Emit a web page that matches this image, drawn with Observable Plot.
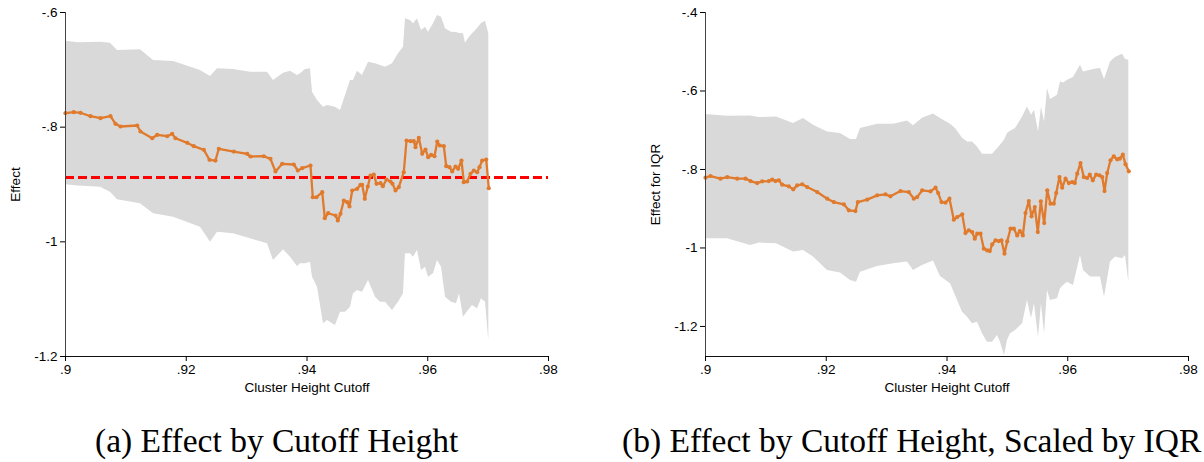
<!DOCTYPE html>
<html>
<head>
<meta charset="utf-8">
<script src="https://cdn.jsdelivr.net/npm/d3@7"></script>
<script src="https://cdn.jsdelivr.net/npm/@observablehq/plot@0.6"></script>
<style>
  body { margin: 0; background: #fff; }
  #wrap { position: relative; width: 1204px; height: 462px; overflow: hidden; background: #fff; }
  .panel { position: absolute; top: 0; }
  #caps { position: absolute; left: 0; top: 400px; }
</style>
</head>
<body>
<div id="wrap">
  <div class="panel" id="pa" style="left:0px"></div>
  <div class="panel" id="pb" style="left:602px"></div>
  <svg id="caps" width="1204" height="62">
    <text x="95" y="52" font-family="Liberation Serif, 'DejaVu Serif', serif" font-size="33.5">(a) Effect by Cutoff Height</text>
    <text x="622" y="52" font-family="Liberation Serif, 'DejaVu Serif', serif" font-size="33.5">(b) Effect by Cutoff Height, Scaled by IQR</text>
  </svg>
</div>
<script>
// ---------- shared ----------
const xTicks = [0.9, 0.92, 0.94, 0.96, 0.98];
const xLabel = "Cluster Height Cutoff";

// ---------- panel (a): Effect ----------
const aYTicks = [-1.2, -1, -0.8, -0.6];
const aYLabel = "Effect";
const aRefLine = -0.8878;
const aEstX = [0.90000,0.90137,0.90248,0.90414,0.90580,0.90745,0.90828,0.90911,0.91188,0.91242,0.91436,0.91519,0.91684,0.91767,0.91822,0.92016,0.92125,0.92291,0.92385,0.92484,0.92539,0.92788,0.93010,0.93064,0.93285,0.93395,0.93478,0.93589,0.93781,0.93848,0.93920,0.94058,0.94096,0.94157,0.94252,0.94295,0.94351,0.94472,0.94510,0.94555,0.94610,0.94666,0.94704,0.94749,0.94831,0.94886,0.94914,0.94957,0.95007,0.95052,0.95107,0.95151,0.95217,0.95256,0.95317,0.95383,0.95416,0.95466,0.95520,0.95603,0.95648,0.95714,0.95769,0.95797,0.95852,0.95908,0.95963,0.96007,0.96057,0.96112,0.96157,0.96200,0.96266,0.96306,0.96360,0.96405,0.96460,0.96504,0.96559,0.96597,0.96653,0.96708,0.96763,0.96819,0.96857,0.96902,0.96968,0.97011];
const aEst = [-0.7756,-0.7739,-0.7749,-0.7809,-0.7844,-0.7809,-0.7941,-0.7988,-0.7971,-0.8076,-0.8193,-0.8133,-0.8158,-0.8116,-0.8193,-0.8273,-0.8332,-0.8395,-0.8569,-0.8582,-0.8377,-0.8425,-0.8465,-0.8512,-0.8507,-0.8552,-0.8773,-0.8639,-0.8651,-0.8756,-0.8716,-0.8669,-0.9222,-0.9222,-0.9134,-0.9588,-0.9501,-0.9541,-0.9628,-0.9511,-0.9279,-0.9309,-0.9384,-0.9105,-0.9075,-0.9005,-0.9005,-0.9250,-0.9035,-0.8843,-0.8826,-0.8988,-0.8977,-0.9030,-0.8913,-0.8948,-0.8988,-0.9105,-0.9047,-0.8786,-0.8233,-0.8245,-0.8245,-0.8350,-0.8186,-0.8465,-0.8390,-0.8524,-0.8482,-0.8507,-0.8250,-0.8320,-0.8332,-0.8681,-0.8698,-0.8773,-0.8686,-0.8726,-0.8582,-0.8960,-0.8948,-0.8814,-0.8756,-0.8786,-0.8698,-0.8582,-0.8564,-0.9065];
const aBandX = [0.9,0.90215,0.90580,0.90745,0.90861,0.91242,0.91458,0.91789,0.92236,0.92402,0.92518,0.92783,0.93064,0.93346,0.93445,0.93611,0.93727,0.93843,0.93892,0.93975,0.94058,0.94091,0.94174,0.94273,0.94340,0.94472,0.94555,0.94638,0.94720,0.94770,0.94836,0.94919,0.95019,0.95135,0.95217,0.95300,0.95416,0.95516,0.95598,0.95631,0.95714,0.95764,0.95830,0.95897,0.95963,0.96012,0.96095,0.96161,0.96228,0.96294,0.96393,0.96476,0.96526,0.96592,0.96625,0.96675,0.96741,0.96824,0.96890,0.96957,0.97011];
const aUpper = [-0.6501,-0.6529,-0.6518,-0.6535,-0.6663,-0.6651,-0.6837,-0.6855,-0.7012,-0.7116,-0.6982,-0.6994,-0.7041,-0.7041,-0.7186,-0.7059,-0.7024,-0.7099,-0.7069,-0.6994,-0.6982,-0.7390,-0.7535,-0.7652,-0.7622,-0.7652,-0.7709,-0.7448,-0.7186,-0.7186,-0.7024,-0.7099,-0.6867,-0.6895,-0.6924,-0.6954,-0.6895,-0.6720,-0.6605,-0.6110,-0.6140,-0.6197,-0.6110,-0.6314,-0.6256,-0.6344,-0.6197,-0.6052,-0.6082,-0.6284,-0.6344,-0.6349,-0.6366,-0.6372,-0.6535,-0.6454,-0.6372,-0.6279,-0.6192,-0.6152,-0.6372];
const aLower = [-0.9005,-0.9026,-0.9047,-0.9134,-0.9267,-0.9337,-0.9511,-0.9570,-0.9745,-1.0007,-0.9832,-0.9860,-0.9947,-1.0035,-1.0326,-1.0139,-1.0268,-1.0430,-1.0383,-1.0383,-1.0355,-1.0617,-1.0792,-1.1430,-1.1372,-1.1460,-1.1228,-1.1228,-1.1140,-1.0907,-1.0849,-1.0879,-1.0675,-1.0966,-1.1053,-1.1053,-1.1198,-1.1053,-1.0907,-1.0209,-1.0209,-1.0268,-1.0151,-1.0500,-1.0443,-1.0617,-1.0558,-1.0326,-1.0443,-1.0966,-1.1053,-1.1081,-1.0907,-1.1315,-1.1268,-1.1198,-1.1111,-1.1168,-1.0994,-1.1053,-1.1721];

// ---------- panel (b): Effect for IQR ----------
const bYTicks = [-1.2, -1, -0.8, -0.6, -0.4];
const bYLabel = "Effect for IQR";
const bEstX = [0.90000,0.90083,0.90248,0.90359,0.90525,0.90663,0.90745,0.90856,0.90939,0.91048,0.91105,0.91159,0.91214,0.91270,0.91380,0.91453,0.91519,0.91602,0.91684,0.91850,0.92016,0.92125,0.92291,0.92374,0.92484,0.92523,0.92678,0.92844,0.92981,0.93064,0.93230,0.93367,0.93450,0.93506,0.93589,0.93727,0.93810,0.93854,0.93909,0.93975,0.94041,0.94113,0.94169,0.94252,0.94306,0.94361,0.94417,0.94460,0.94500,0.94555,0.94610,0.94666,0.94709,0.94749,0.94803,0.94858,0.94903,0.94952,0.94997,0.95052,0.95107,0.95163,0.95206,0.95256,0.95300,0.95355,0.95400,0.95454,0.95504,0.95554,0.95610,0.95660,0.95714,0.95769,0.95809,0.95863,0.95908,0.95963,0.96018,0.96074,0.96117,0.96157,0.96211,0.96266,0.96322,0.96365,0.96415,0.96471,0.96526,0.96571,0.96609,0.96653,0.96708,0.96763,0.96819,0.96862,0.96912,0.96957,0.97011];
const bEst = [-0.8208,-0.8167,-0.8234,-0.8193,-0.8234,-0.8234,-0.8295,-0.8346,-0.8302,-0.8295,-0.8259,-0.8295,-0.8277,-0.8387,-0.8430,-0.8507,-0.8405,-0.8379,-0.8448,-0.8575,-0.8744,-0.8830,-0.8889,-0.9042,-0.9060,-0.8830,-0.8769,-0.8660,-0.8634,-0.8685,-0.8550,-0.8575,-0.8744,-0.8703,-0.8532,-0.8558,-0.8463,-0.8601,-0.8830,-0.8846,-0.8744,-0.9279,-0.9213,-0.9144,-0.9621,-0.9552,-0.9596,-0.9764,-0.9636,-0.9636,-1.0019,-1.0062,-1.0080,-0.9909,-0.9807,-0.9825,-0.9807,-1.0146,-0.9833,-0.9509,-0.9509,-0.9680,-0.9570,-0.9680,-0.9111,-0.8805,-0.9195,-0.8958,-0.9596,-0.8813,-0.9366,-0.8532,-0.8871,-0.8871,-0.8601,-0.8193,-0.8463,-0.8234,-0.8346,-0.8320,-0.8346,-0.8106,-0.7836,-0.8193,-0.8218,-0.8132,-0.8277,-0.8132,-0.8149,-0.8193,-0.8550,-0.8091,-0.7767,-0.7665,-0.7741,-0.7724,-0.7622,-0.7869,-0.8047];
const bBandX = [0.9,0.90364,0.90745,0.90894,0.91176,0.91458,0.91623,0.91789,0.92021,0.92236,0.92402,0.92501,0.92567,0.92849,0.93114,0.93346,0.93445,0.93594,0.93776,0.93892,0.94058,0.94141,0.94257,0.94340,0.94422,0.94505,0.94588,0.94671,0.94754,0.94836,0.94886,0.94952,0.95002,0.95052,0.95135,0.95251,0.95333,0.95400,0.95449,0.95516,0.95565,0.95615,0.95665,0.95714,0.95830,0.95880,0.95930,0.95996,0.96095,0.96211,0.96261,0.96377,0.96493,0.96542,0.96609,0.96708,0.96791,0.96907,0.96957,0.97011];
const bUpper = [-0.6601,-0.6645,-0.6637,-0.6678,-0.6663,-0.6831,-0.6703,-0.6874,-0.7045,-0.7086,-0.7239,-0.7239,-0.6958,-0.6849,-0.6849,-0.6765,-0.6887,-0.6696,-0.6586,-0.6703,-0.6849,-0.6958,-0.7206,-0.7300,-0.7300,-0.7428,-0.7614,-0.7614,-0.7614,-0.7469,-0.7384,-0.7257,-0.7086,-0.7027,-0.6958,-0.6663,-0.6408,-0.6619,-0.6492,-0.7045,-0.6408,-0.6790,-0.5938,-0.6219,-0.6109,-0.5770,-0.5795,-0.5727,-0.5658,-0.5344,-0.5515,-0.5472,-0.5433,-0.5428,-0.5709,-0.5260,-0.5148,-0.5063,-0.5199,-0.5217];
const bLower = [-0.9764,-0.9764,-0.9935,-0.9876,-0.9891,-1.0106,-1.0062,-1.0233,-1.0572,-1.0641,-1.0827,-1.0871,-1.0616,-1.0470,-1.0401,-1.0361,-1.0572,-1.0445,-1.0330,-1.0725,-1.0911,-1.1210,-1.1636,-1.1763,-1.1932,-1.1891,-1.2187,-1.2401,-1.2401,-1.2230,-1.2401,-1.2740,-1.2357,-1.2187,-1.2103,-1.1932,-1.1337,-1.1796,-1.1422,-1.2273,-1.1422,-1.2187,-1.1082,-1.1337,-1.1294,-1.1039,-1.0955,-1.0871,-1.0955,-1.0190,-1.0572,-1.0743,-1.0743,-1.0743,-1.1253,-1.0361,-1.0233,-1.0274,-1.0190,-1.0871];

// ---------- drawing ----------
const fmt = d => String(d).replace(/^(-?)0\./, "$1.");
const ORANGE = "#e07a2c";
const BAND = "#d9d9d9";

function panel({estX, est, bandX, upper, lower, yDomain, yTicks, yLabel, ref, marginLeft, marginRight}) {
  const estData = estX.map((x, i) => ({x, y: est[i]}));
  const bandData = bandX.map((x, i) => ({x, lo: lower[i], hi: upper[i]}));
  return Plot.plot({
    width: 602,
    height: 400,
    marginLeft, marginRight,
    marginTop: 12,
    marginBottom: 44,
    style: {fontFamily: "'Liberation Sans', Arial, sans-serif", fontSize: "13.5px", background: "transparent", color: "#000"},
    x: {domain: [0.9, 0.98]},
    y: {domain: yDomain},
    marks: [
      Plot.areaY(bandData, {x: "x", y1: "lo", y2: "hi", fill: BAND}),
      ref != null ? Plot.ruleY([ref], {stroke: "#ff0000", strokeWidth: 3, strokeDasharray: "9,4"}) : null,
      Plot.line(estData, {x: "x", y: "y", stroke: ORANGE, strokeWidth: 2.3}),
      Plot.dot(estData, {x: "x", y: "y", r: 2.1, fill: ORANGE, stroke: null}),
      Plot.ruleX([0.9], {stroke: "#444", strokeWidth: 1}),
      Plot.ruleY([yDomain[0]], {stroke: "#111", strokeWidth: 1}),
      Plot.axisY({ticks: yTicks, tickFormat: fmt, tickSize: 5, tickPadding: 3, label: yLabel, labelAnchor: "center", labelArrow: "none", labelOffset: 55}),
      Plot.axisX({ticks: xTicks, tickFormat: fmt, tickSize: 5, tickPadding: 3, label: xLabel, labelAnchor: "center", labelArrow: "none", labelOffset: 35})
    ]
  });
}

document.getElementById("pa").append(panel({
  estX: aEstX, est: aEst, bandX: aBandX, upper: aUpper, lower: aLower,
  yDomain: [-1.2, -0.6], yTicks: aYTicks, yLabel: aYLabel, ref: aRefLine,
  marginLeft: 65, marginRight: 54
}));
document.getElementById("pb").append(panel({
  estX: bEstX, est: bEst, bandX: bBandX, upper: bUpper, lower: bLower,
  yDomain: [-1.2766, -0.4], yTicks: bYTicks, yLabel: bYLabel, ref: null,
  marginLeft: 103, marginRight: 16
}));
</script>
</body>
</html>
